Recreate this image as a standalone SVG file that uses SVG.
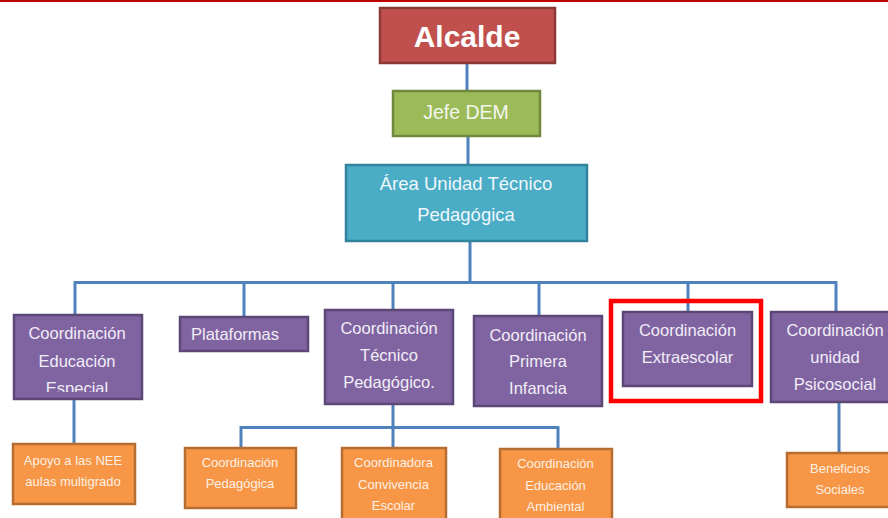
<svg xmlns="http://www.w3.org/2000/svg" width="888" height="518" viewBox="0 0 888 518">
  <style>
    .lnk { fill: none; stroke: #4f81bd; stroke-width: 3; }
    .box { stroke-width: 2.5; }
    .red { fill: #c0504d; stroke: #8c3836; }
    .green { fill: #9bbb59; stroke: #71893f; }
    .cyan { fill: #4bacc6; stroke: #31849b; }
    .purple { fill: #8064a2; stroke: #5c4776; }
    .orange { fill: #f79646; stroke: #b66d31; }
    text { font-family: "Liberation Sans", Arial, sans-serif; text-anchor: middle; }
    .t1 { fill: #ffffff; font-size: 30px; font-weight: bold; }
    .t2 { fill: #f4f6ee; font-size: 19.5px; }
    .t3 { fill: #eef7fa; font-size: 18.5px; }
    .tp { fill: #f1edf6; font-size: 16.5px; }
    .to { fill: #fdf0e4; font-size: 13px; }
  </style>
  <defs>
    <clipPath id="clipEsp">
      <rect x="14" y="315" width="128" height="77"/>
    </clipPath>
  </defs>

  <!-- top rule -->
  <rect x="0" y="0" width="888" height="2" fill="#c00000"/>

  <!-- connectors -->
  <g id="connectors">
    <path class="lnk" d="M467 63 V91"/>
    <path class="lnk" d="M468 136 V165"/>
    <path class="lnk" d="M470 241 V282.5"/>
    <path class="lnk" d="M75 315 V282.5 H836 V312"/>
    <path class="lnk" d="M244 282.5 V317"/>
    <path class="lnk" d="M393 282.5 V310"/>
    <path class="lnk" d="M539 282.5 V316"/>
    <path class="lnk" d="M688 282.5 V312"/>
    <path class="lnk" d="M74 399 V444"/>
    <path class="lnk" d="M393 404 V448"/>
    <path class="lnk" d="M241 448 V427.5 H558 V449"/>
    <path class="lnk" d="M839 402 V453"/>
  </g>

  <g id="alcalde">
    <rect class="box red" x="380" y="8" width="175" height="55"/>
    <text class="t1" x="467" y="47">Alcalde</text>
  </g>

  <g id="jefe-dem">
    <rect class="box green" x="393" y="91" width="147" height="45"/>
    <text class="t2" x="466" y="119">Jefe DEM</text>
  </g>

  <g id="area-utp">
    <rect class="box cyan" x="346" y="165" width="241" height="76"/>
    <text class="t3" x="466" y="190">Área Unidad Técnico</text>
    <text class="t3" x="466" y="221">Pedagógica</text>
  </g>

  <g id="coord-educacion-especial">
    <rect class="box purple" x="14" y="315" width="128" height="84"/>
    <g clip-path="url(#clipEsp)">
      <text class="tp" x="77" y="339">Coordinación</text>
      <text class="tp" x="77" y="367">Educación</text>
      <text class="tp" x="77" y="394">Especial</text>
    </g>
  </g>

  <g id="plataformas">
    <rect class="box purple" x="180" y="317" width="128" height="34"/>
    <text class="tp" x="191" y="340" style="text-anchor:start">Plataformas</text>
  </g>

  <g id="coord-tecnico-pedagogico">
    <rect class="box purple" x="325" y="310" width="128" height="94"/>
    <text class="tp" x="389" y="334">Coordinación</text>
    <text class="tp" x="389" y="361">Técnico</text>
    <text class="tp" x="389" y="388">Pedagógico.</text>
  </g>

  <g id="coord-primera-infancia">
    <rect class="box purple" x="474" y="316" width="128" height="90"/>
    <text class="tp" x="538" y="341">Coordinación</text>
    <text class="tp" x="538" y="367">Primera</text>
    <text class="tp" x="538" y="394">Infancia</text>
  </g>

  <g id="coord-extraescolar">
    <rect class="box purple" x="623" y="312" width="129" height="74"/>
    <text class="tp" x="687.5" y="336">Coordinación</text>
    <text class="tp" x="687.5" y="363">Extraescolar</text>
    <rect x="611" y="301" width="150" height="100" fill="none" stroke="#ff0000" stroke-width="4.5"/>
  </g>

  <g id="coord-psicosocial">
    <rect class="box purple" x="771" y="312" width="128" height="90"/>
    <text class="tp" x="835" y="336">Coordinación</text>
    <text class="tp" x="835" y="363">unidad</text>
    <text class="tp" x="835" y="390">Psicosocial</text>
  </g>

  <g id="apoyo-nee">
    <rect class="box orange" x="13" y="444" width="122" height="60"/>
    <text class="to" x="73" y="465">Apoyo a las NEE</text>
    <text class="to" x="73" y="486">aulas multigrado</text>
  </g>

  <g id="coord-pedagogica">
    <rect class="box orange" x="185" y="448" width="111" height="60"/>
    <text class="to" x="240" y="467">Coordinación</text>
    <text class="to" x="240" y="488">Pedagógica</text>
  </g>

  <g id="coord-convivencia">
    <rect class="box orange" x="342" y="448" width="104" height="80"/>
    <text class="to" x="393.5" y="467">Coordinadora</text>
    <text class="to" x="393.5" y="489">Convivencia</text>
    <text class="to" x="393.5" y="510">Escolar</text>
  </g>

  <g id="coord-ambiental">
    <rect class="box orange" x="500" y="449" width="112" height="80"/>
    <text class="to" x="555.5" y="468">Coordinación</text>
    <text class="to" x="555.5" y="490">Educación</text>
    <text class="to" x="555.5" y="511">Ambiental</text>
  </g>

  <g id="beneficios-sociales">
    <rect class="box orange" x="787" y="453" width="106" height="54"/>
    <text class="to" x="840" y="473">Beneficios</text>
    <text class="to" x="840" y="494">Sociales</text>
  </g>
</svg>
